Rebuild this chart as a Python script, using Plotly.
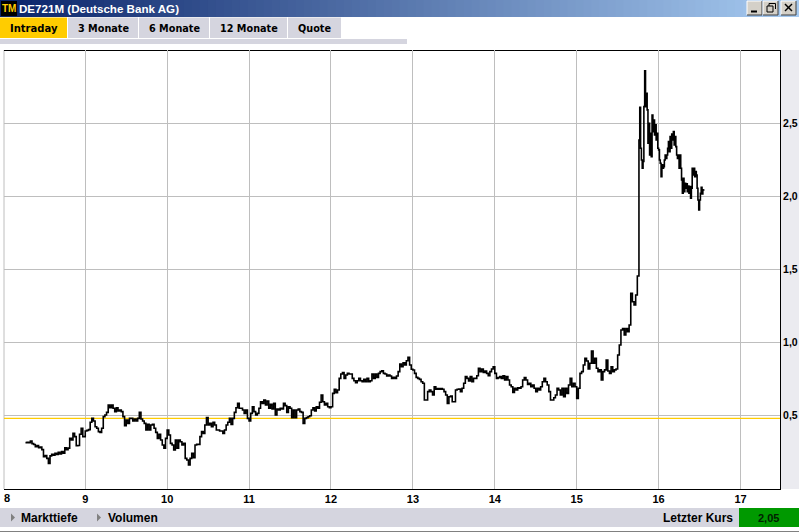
import numpy as np
import plotly.graph_objects as go

W, H = 799, 532

# ---------- data ----------
title_text = "DE721M (Deutsche Bank AG)"
tab_labels = ["Intraday", "3 Monate", "6 Monate", "12 Monate", "Quote"]
x_ticks = [9, 10, 11, 12, 13, 14, 15, 16, 17]
y_ticks = [0.5, 1.0, 1.5, 2.0, 2.5]
y_tick_labels = ["0,5", "1,0", "1,5", "2,0", "2,5"]
reference_level = 0.479
last_price = "2,05"

hour_08 = [.313,.315,.312,.324,.306,.300,.285,.292,.278,.283,.265,.217,.225,.205,.171,.222,.233,.226,
           .240,.232,.246,.235,.251,.240,.278,.265,.275,.342,.331,.376,.354,.292,.293,.370,.411,.354]
hour_09 = [.392,.397,.402,.452,.479,.461,.422,.411,.388,.383,.411,.491,.502,.520,.570,.552,.570,.548,.525,.552,
           .529,.536,.525,.491,.429,.468,.445,.479,.479,.461,.475,.461,.479,.520,.475,.461,.445,.399,.438,.399,
           .434,.438,.411,.383,.342,.370,.331,.297,.274,.342]
hour_10 = [.399,.365,.308,.297,.262,.331,.274,.331,.319,.297,.308,.205,.194,.160,.205,.239,.210,.297,.301,.301,
           .354,.388,.376,.434,.484,.434,.445,.422,.452,.434,.399,.399,.392,.392,.376,.399,.434,.452,.479,.438,
           .479,.520,.552,.582,.548,.548,.536,.513,.536,.479]
hour_11 = [.461,.513,.559,.525,.502,.513,.548,.593,.582,.605,.571,.598,.548,.575,.543,.582,.502,.543,.536,.548,
           .543,.582,.566,.520,.559,.548,.484,.536,.484,.536,.543,.525,.520,.445,.479,.484,.490,.497,.536,.552,
           .529,.559,.548,.589,.639,.593,.571,.582,.559,.552]
hour_12 = [.559,.650,.678,.655,.673,.753,.783,.792,.753,.776,.787,.783,.783,.753,.737,.723,.737,.753,.737,.730,
           .746,.730,.753,.730,.737,.783,.753,.783,.760,.787,.799,.805,.787,.783,.769,.776,.769,.753,.760,.753,
           .769,.799,.851,.833,.860,.844,.874,.897,.844,.815]
hour_13 = [.810,.787,.760,.753,.746,.730,.719,.605,.605,.662,.673,.662,.639,.696,.678,.684,.678,.684,.678,.662,
           .639,.582,.627,.632,.593,.593,.673,.678,.680,.662,.685,.719,.765,.753,.735,.765,.730,.753,.753,.771,
           .822,.799,.817,.794,.803,.787,.771,.799,.817,.833]
hour_14 = [.787,.753,.758,.765,.753,.771,.742,.765,.742,.708,.696,.657,.685,.673,.689,.685,.696,.742,.758,.742,
           .712,.719,.696,.708,.685,.662,.685,.673,.696,.730,.753,.730,.708,.662,.605,.605,.620,.639,.685,.673,
           .639,.685,.628,.685,.650,.708,.753,.696,.719,.696]
hour_15 = [.616,.685,.787,.799,.845,.890,.872,.817,.856,.940,.856,.890,.822,.799,.811,.742,.799,.811,.879,.803,
           .787,.833,.799,.811,.817,.913,.981,1.084,1.095,1.05,1.095,1.073,1.118,1.335,1.278,1.255,1.324,1.454]
spike_onward = [2.386,2.61,2.329,2.249,2.192,2.238,2.614,2.859,2.614,2.706,2.592,2.363,2.50,2.283,2.432,2.272,
                2.557,2.443,2.523,2.420,2.489,2.386,2.432,2.329,2.318,2.249,2.226,2.135,2.215,2.192,2.203,2.249,
                2.283,2.260,2.283,2.329,2.375,2.306,2.409,2.329,2.427,2.386,2.443,2.352,2.409,2.340,2.283,2.260,
                2.283,2.192,2.283,2.192,2.112,2.021,2.123,2.032,2.089,2.055,2.085,2.032,2.071,2.021,2.066,1.987,
                2.055,2.192,2.146,2.192,2.135,2.169,2.146,2.055,1.975,1.907,1.975,2.021,2.062,2.016,2.044,2.048]
# (first hour of each block, sampling step in hours, values)
blocks = [(8.27, .02, hour_08), (9, .02, hour_09), (10, .02, hour_10), (11, .02, hour_11),
          (12, .02, hour_12), (13, .02, hour_13), (14, .02, hour_14), (15, .02, hour_15),
          (15.76, .01, spike_onward)]

hours = np.concatenate([start + step * np.arange(len(v)) for start, step, v in blocks])
prices = np.concatenate([v for _, _, v in blocks])

# ---------- chrome ----------
FONT_TAB = "DejaVu Sans"
FONT_UI = "Liberation Sans"
PLOT_L, PLOT_R, PLOT_T, PLOT_B = 4, 780, 50, 489
shapes, notes = [], []


def fx(px):
    return px / W


def fy(py):
    return 1 - py / H


def rect(x0, y0, x1, y1, fill, line=None, layer="below"):
    shapes.append(dict(type="rect", xref="paper", yref="paper", x0=fx(x0), x1=fx(x1), y0=fy(y0), y1=fy(y1),
                       fillcolor=fill, line=dict(width=1 if line else 0, color=line or fill), layer=layer))


def seg(x0, y0, x1, y1, color, width=1, layer="below"):
    shapes.append(dict(type="line", xref="paper", yref="paper", x0=fx(x0), x1=fx(x1), y0=fy(y0), y1=fy(y1),
                       line=dict(color=color, width=width), layer=layer))


def tri(x, y, color):
    pts = [(x, y - 4), (x + 4, y), (x, y + 4)]
    path = "M " + " L ".join(f"{fx(a):.5f},{fy(b):.5f}" for a, b in pts) + " Z"
    shapes.append(dict(type="path", xref="paper", yref="paper", path=path, fillcolor=color, line=dict(width=0)))


def note(px, py, text, font, size, color="#000000", anchor="left", bold=True):
    notes.append(dict(xref="paper", yref="paper", x=fx(px), y=fy(py), text=f"<b>{text}</b>" if bold else text,
                      showarrow=False, xanchor=anchor, yanchor="middle", xshift=0, yshift=0,
                      font=dict(family=font, size=size, color=color), borderpad=0, borderwidth=0))


# title bar gradient
c0, c1 = np.array([10, 36, 106]), np.array([166, 202, 240])
n = 100
for i in range(n):
    c = c0 + (c1 - c0) * i / (n - 1)
    rect(W * i / n, 0, W * (i + 1) / n + 1, 17, f"rgb({c[0]:.0f},{c[1]:.0f},{c[2]:.0f})")
rect(1, 1, 17, 16, "#000000")
note(9, 8.5, "TM", FONT_UI, 10, "#FFCC00", "center")
note(18.5, 8.5, title_text, FONT_UI, 11.6, "#FFFFFF")

# window buttons
for bx0, bx1 in [(747, 762), (763, 778), (781, 796)]:
    rect(bx0, 1, bx1, 15, "#D4D0C8")
    seg(bx0, 1, bx1, 1, "#FFFFFF")
    seg(bx0, 1, bx0, 15, "#FFFFFF")
    seg(bx1, 1, bx1, 15, "#404040")
    seg(bx0, 15, bx1, 15, "#404040")
seg(751, 11.5, 757, 11.5, "#000000", 2)
rect(767, 6, 773, 12, "#D4D0C8", "#000000")
seg(769, 3.5, 775.5, 3.5, "#000000", 1)
seg(775.5, 3.5, 775.5, 9, "#000000", 1)
seg(769, 3.5, 769, 6, "#000000", 1)
seg(785, 4, 792, 11, "#000000", 1.5)
seg(792, 4, 785, 11, "#000000", 1.5)

# tabs
tab_edges = [(0, 67), (68, 138), (139, 209), (210, 287), (288, 341)]
for i, (label, (a, b)) in enumerate(zip(tab_labels, tab_edges)):
    rect(a, 17.5, b, 38, "#FFCC00" if i == 0 else "#D5D5DF")
    note((a + b) / 2, 28.5, label, FONT_TAB, 10 if i == 0 else 9.7, "#000000", "center")
rect(0, 39, 407, 44, "#D5D5DF")

# plot surroundings
rect(PLOT_R, PLOT_T, W, PLOT_B, "#EBEBF0")
seg(PLOT_L, PLOT_T, PLOT_L, PLOT_B, "#BEBEBE")
seg(PLOT_L, PLOT_T + .5, PLOT_R, PLOT_T + .5, "#000000")

# bottom bar
rect(0, 508, W, 527, "#D5D5DF")
rect(739, 508, W, 527, "#009900")
seg(0, 531.5, W, 531.5, "#808080")
tri(11, 517.5, "#808080")
tri(97, 517.5, "#808080")
note(21, 517.5, "Markttiefe", FONT_UI, 12)
note(108, 517.5, "Volumen", FONT_UI, 12)
note(733, 517.5, "Letzter Kurs", FONT_UI, 12, anchor="right")
note(768, 517.5, last_price, FONT_UI, 11, "#002200", "center")
note(4, 498, "8", FONT_UI, 11)

fig = go.Figure()
fig.add_trace(go.Scatter(x=[8, 17.5], y=[reference_level, reference_level], mode="lines",
                         line=dict(color="#FFCC00", width=1.4), hoverinfo="skip"))
fig.add_trace(go.Scatter(x=hours, y=prices, mode="lines",
                         line=dict(color="#000000", width=1.6, shape="hv"), hoverinfo="skip"))

fig.update_layout(
    width=W, height=H, autosize=False, showlegend=False,
    margin=dict(l=0, r=0, t=0, b=0, pad=0),
    paper_bgcolor="#FFFFFF", plot_bgcolor="rgba(0,0,0,0)",
    shapes=shapes, annotations=notes,
    xaxis=dict(domain=[PLOT_L / W, PLOT_R / W], range=[8.008, 17.482], tickmode="array", tickvals=x_ticks,
               ticktext=[str(v) for v in x_ticks], showgrid=True, gridcolor="#BEBEBE", gridwidth=1, zeroline=False,
               showline=True, linecolor="#000000", linewidth=1, ticks="",
               tickfont=dict(family=FONT_UI, size=11, color="#000000", weight="bold")),
    yaxis=dict(domain=[1 - PLOT_B / H, 1 - PLOT_T / H], range=[-0.0048, 3.002], side="right", tickmode="array",
               tickvals=y_ticks, ticktext=y_tick_labels, showgrid=True, gridcolor="#BEBEBE", gridwidth=1,
               zeroline=False, showline=True, linecolor="#000000", linewidth=1, ticks="",
               tickfont=dict(family=FONT_UI, size=10.5, color="#000000", weight="bold")),
)
fig.write_html("out.html", config=dict(displayModeBar=False),
               post_script="document.body.style.margin='0';document.documentElement.style.overflow='hidden';")
